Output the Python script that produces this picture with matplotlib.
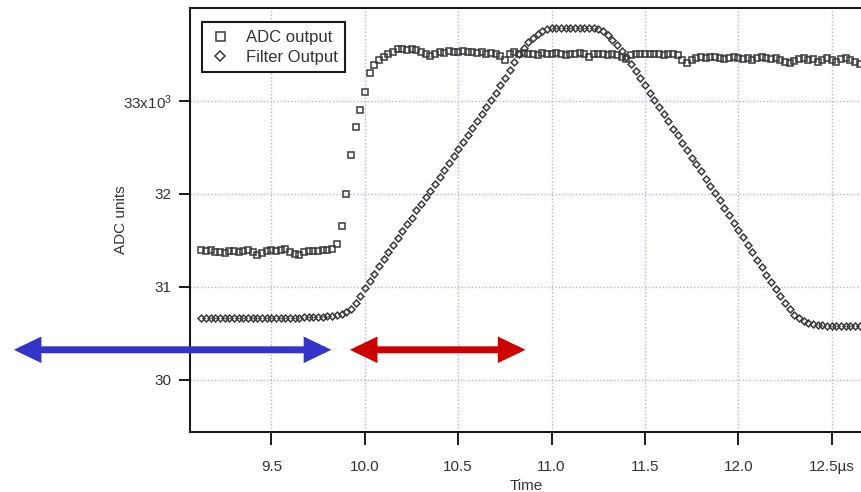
import matplotlib
matplotlib.use("Agg")
import matplotlib.pyplot as plt

plt.rcParams['font.family'] = ['Liberation Sans', 'DejaVu Sans']
plt.rcParams['mathtext.fontset'] = 'custom'
plt.rcParams['mathtext.rm'] = 'Liberation Sans'
plt.rcParams['mathtext.it'] = 'Liberation Sans:italic'
plt.rcParams['mathtext.bf'] = 'Liberation Sans:bold'
plt.rcParams['mathtext.default'] = 'rm'

# ---------------- data ----------------
time_us = [
    9.125, 9.150, 9.175, 9.200, 9.225, 9.250, 9.275, 9.300, 9.325, 9.350,
    9.375, 9.400, 9.425, 9.450, 9.475, 9.500, 9.525, 9.550, 9.575, 9.600,
    9.625, 9.650, 9.675, 9.700, 9.725, 9.750, 9.775, 9.800, 9.825, 9.850,
    9.875, 9.900, 9.925, 9.950, 9.975, 10.000, 10.025, 10.050, 10.075, 10.100,
    10.125, 10.150, 10.175, 10.200, 10.225, 10.250, 10.275, 10.300, 10.325, 10.350,
    10.375, 10.400, 10.425, 10.450, 10.475, 10.500, 10.525, 10.550, 10.575, 10.600,
    10.625, 10.650, 10.675, 10.700, 10.725, 10.750, 10.775, 10.800, 10.825, 10.850,
    10.875, 10.900, 10.925, 10.950, 10.975, 11.000, 11.025, 11.050, 11.075, 11.100,
    11.125, 11.150, 11.175, 11.200, 11.225, 11.250, 11.275, 11.300, 11.325, 11.350,
    11.375, 11.400, 11.425, 11.450, 11.475, 11.500, 11.525, 11.550, 11.575, 11.600,
    11.625, 11.650, 11.675, 11.700, 11.725, 11.750, 11.775, 11.800, 11.825, 11.850,
    11.875, 11.900, 11.925, 11.950, 11.975, 12.000, 12.025, 12.050, 12.075, 12.100,
    12.125, 12.150, 12.175, 12.200, 12.225, 12.250, 12.275, 12.300, 12.325, 12.350,
    12.375, 12.400, 12.425, 12.450, 12.475, 12.500, 12.525, 12.550, 12.575, 12.600,
    12.625, 12.650,
]

# ADC units in thousands
adc_output = [
    31.39, 31.38, 31.39, 31.37, 31.37, 31.36, 31.38, 31.38, 31.37, 31.38,
    31.39, 31.37, 31.34, 31.36, 31.38, 31.39, 31.38, 31.39, 31.40, 31.37,
    31.35, 31.34, 31.37, 31.38, 31.38, 31.38, 31.39, 31.39, 31.40, 31.46,
    31.65, 32.00, 32.42, 32.72, 32.90, 33.10, 33.30, 33.39, 33.44, 33.47,
    33.50, 33.53, 33.56, 33.56, 33.55, 33.56, 33.55, 33.53, 33.50, 33.48,
    33.51, 33.53, 33.52, 33.54, 33.53, 33.53, 33.54, 33.53, 33.53, 33.52,
    33.53, 33.51, 33.52, 33.50, 33.48, 33.44, 33.50, 33.53, 33.51, 33.52,
    33.50, 33.51, 33.49, 33.52, 33.50, 33.51, 33.52, 33.50, 33.49, 33.51,
    33.50, 33.52, 33.50, 33.47, 33.50, 33.51, 33.50, 33.49, 33.50, 33.49,
    33.47, 33.45, 33.49, 33.51, 33.50, 33.51, 33.50, 33.51, 33.50, 33.49,
    33.50, 33.51, 33.49, 33.44, 33.41, 33.44, 33.46, 33.47, 33.46, 33.47,
    33.47, 33.46, 33.45, 33.46, 33.47, 33.46, 33.45, 33.46, 33.44, 33.46,
    33.47, 33.46, 33.45, 33.46, 33.44, 33.42, 33.41, 33.43, 33.45, 33.46,
    33.44, 33.45, 33.42, 33.44, 33.46, 33.44, 33.42, 33.45, 33.46, 33.44,
    33.42, 33.40,
]

filter_output = [
    30.66, 30.66, 30.66, 30.66, 30.66, 30.66, 30.66, 30.66, 30.66, 30.66,
    30.66, 30.66, 30.66, 30.66, 30.66, 30.66, 30.66, 30.66, 30.66, 30.66,
    30.66, 30.66, 30.67, 30.67, 30.67, 30.67, 30.67, 30.68, 30.68, 30.69,
    30.71, 30.73, 30.76, 30.82, 30.90, 30.98, 31.06, 31.14, 31.22, 31.30,
    31.37, 31.45, 31.52, 31.60, 31.67, 31.74, 31.82, 31.89, 31.96, 32.03,
    32.11, 32.18, 32.26, 32.33, 32.41, 32.48, 32.56, 32.63, 32.71, 32.78,
    32.86, 32.93, 33.01, 33.09, 33.17, 33.25, 33.33, 33.42, 33.50, 33.57,
    33.63, 33.68, 33.72, 33.75, 33.77, 33.78, 33.78, 33.78, 33.78, 33.78,
    33.78, 33.78, 33.78, 33.78, 33.78, 33.77, 33.75, 33.71, 33.66, 33.60,
    33.54, 33.47, 33.40, 33.32, 33.25, 33.17, 33.09, 33.01, 32.93, 32.86,
    32.78, 32.70, 32.63, 32.55, 32.47, 32.39, 32.32, 32.24, 32.16, 32.08,
    32.01, 31.93, 31.85, 31.77, 31.69, 31.61, 31.53, 31.45, 31.37, 31.29,
    31.21, 31.13, 31.05, 30.97, 30.90, 30.82, 30.76, 30.70, 30.66, 30.63,
    30.61, 30.60, 30.59, 30.59, 30.58, 30.58, 30.58, 30.58, 30.58, 30.58,
    30.58, 30.58,
]

x_ticks = [9.5, 10.0, 10.5, 11.0, 11.5, 12.0, 12.5]
x_tick_labels = ["9.5", "10.0", "10.5", "11.0", "11.5", "12.0", "12.5\u00b5s"]
y_ticks = [30, 31, 32, 33]
y_tick_labels = ["30", "31", "32", "33x10$^{3}$"]

# annotation arrows (time spans, in µs) and their level (ADC units, thousands)
baseline_span = [8.12, 9.82]
risetime_span = [9.92, 10.86]
arrow_level = 30.32

# ---------------- figure ----------------
fig = plt.figure(figsize=(8.62, 4.92), dpi=100)
ax = fig.add_axes([190 / 862, 1 - 432 / 492, 672 / 862, 424 / 492])

ink = '#3a3a3a'
ax.plot(time_us, adc_output, linestyle='none', marker='s', markersize=4.8,
        markerfacecolor='none', markeredgecolor=ink, markeredgewidth=1.1,
        label='ADC output', zorder=3)
ax.plot(time_us, filter_output, linestyle='none', marker='D', markersize=3.5,
        markerfacecolor='none', markeredgecolor=ink, markeredgewidth=1.1,
        label='Filter Output', zorder=3)

ax.set_xlim(9.0635, 12.663)
ax.set_ylim(29.435, 34.0)

ax.set_xticks(x_ticks)
ax.set_xticklabels(x_tick_labels)
ax.set_yticks(y_ticks)
ax.set_yticklabels(y_tick_labels)

ax.grid(True, color='#b4b4ea', linestyle=(0, (1, 1.5)), linewidth=1.0)
ax.set_axisbelow(True)

for side in ['left', 'bottom', 'top']:
    ax.spines[side].set_linewidth(1.5)
    ax.spines[side].set_color('#1a1a1a')
ax.spines['right'].set_visible(False)

ax.tick_params(axis='both', direction='out', length=8, width=1.4,
               colors='#1a1a1a', labelsize=11, labelcolor='#333333', pad=5)
ax.tick_params(axis='x', length=9, pad=11)

ax.set_xlabel('Time', fontsize=11, color='#333333', labelpad=4)
ax.set_ylabel('ADC units', fontsize=11, color='#333333', labelpad=-4)

leg = ax.legend(loc='upper left', bbox_to_anchor=(0.0174, 0.966),
                borderaxespad=0, fancybox=False, framealpha=1,
                edgecolor='#1a1a1a', fontsize=12, handlelength=1.3,
                handletextpad=0.9, labelspacing=0.3, borderpad=0.45,
                markerscale=1.35)
leg.get_frame().set_linewidth(1.5)
for txt in leg.get_texts():
    txt.set_color('#333333')

arrow_style = '<|-|>,head_length=0.58,head_width=0.28'
ax.annotate('', xy=(baseline_span[1], arrow_level),
            xytext=(baseline_span[0], arrow_level),
            arrowprops=dict(arrowstyle=arrow_style, mutation_scale=20,
                            color='#3434c8', lw=5.0, shrinkA=0, shrinkB=0,
                            joinstyle='miter'),
            annotation_clip=False, zorder=5)
ax.annotate('', xy=(risetime_span[1], arrow_level),
            xytext=(risetime_span[0], arrow_level),
            arrowprops=dict(arrowstyle=arrow_style, mutation_scale=20,
                            color='#cc0000', lw=5.0, shrinkA=0, shrinkB=0,
                            joinstyle='miter'),
            annotation_clip=False, zorder=5)

fig.savefig('out.png', dpi=100)
